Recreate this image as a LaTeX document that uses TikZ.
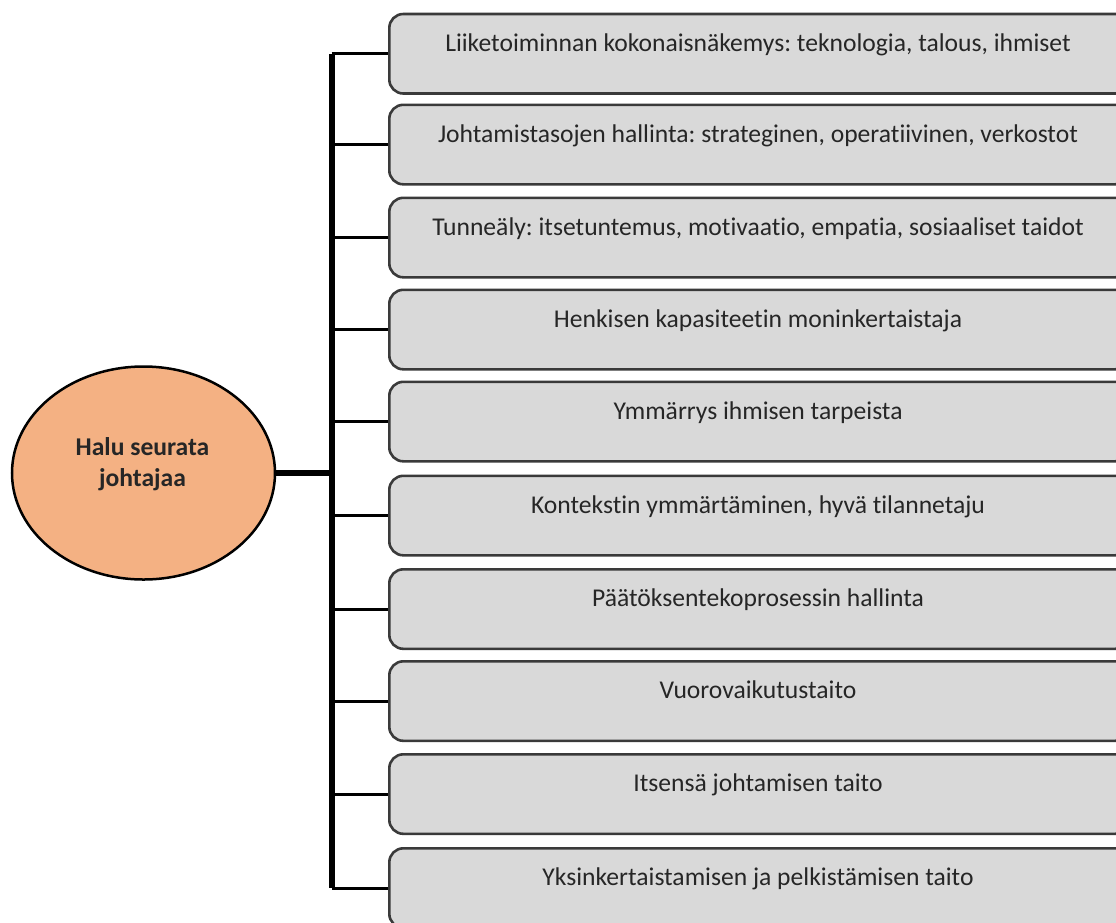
\documentclass[tikz,border=0pt]{standalone}
\usepackage{fontspec}
\setmainfont{Carlito}[RawFeature={-liga;-dlig}]
\frenchspacing
\usetikzlibrary{shapes.geometric}
\definecolor{boxfill}{HTML}{D9D9D9}
\definecolor{boxline}{HTML}{3A3A3A}
\definecolor{ellfill}{HTML}{F4B183}
\tikzset{
  itembox/.style={draw=boxline, line width=2.6pt, fill=boxfill, rounded corners=14pt,
    minimum width=740pt, minimum height=79.5pt, inner sep=0pt, anchor=north west},
  itemtext/.style={anchor=base, font=\fontsize{25.6}{30}\selectfont, text=black!85, inner sep=0pt},
  branch/.style={draw=black, line width=3pt},
  trunkline/.style={draw=black, line width=6pt},
  mainell/.style={ellipse, draw=black, line width=2.5pt, fill=ellfill,
    minimum width=263pt, minimum height=213pt, inner sep=0pt},
}
\begin{document}
\begin{tikzpicture}[x=1pt,y=-1pt]
\useasboundingbox (0,0) rectangle (1116,922);
\clip (0,0) rectangle (1116,922);
\coordinate (tk) at (331.5,0);
\foreach \i/\top/\txt in {
  1/12.7/{Liiketoiminnan kokonaisnäkemys: teknologia, talous, ihmiset},
  2/103.5/{Johtamistasojen hallinta: strateginen, operatiivinen, verkostot},
  3/196.5/{Tunneäly: itsetuntemus, motivaatio, empatia, sosiaaliset taidot},
  4/288.5/{Henkisen kapasiteetin moninkertaistaja},
  5/380.5/{Ymmärrys ihmisen tarpeista},
  6/474.5/{Kontekstin ymmärtäminen, hyvä tilannetaju},
  7/568/{Päätöksentekoprosessin hallinta},
  8/660/{Vuorovaikutustaito},
  9/753/{Itsensä johtamisen taito},
  10/847/{Yksinkertaistamisen ja pelkistämisen taito}} {
  \node[itembox] (b\i) at (388,\top) {};
  \node[itemtext] (t\i) at (758,\top+38.5) {\txt};
}
\node[mainell] (e) at (143.5,473) {};
\node[align=center, font=\bfseries\fontsize{25.6}{31}\selectfont, text=black!85] (et) at (142.5,464) {Halu seurata\\johtajaa};
\draw[trunkline] (b1.west -| tk) -- (b10.west -| tk);
\draw[trunkline] (e.east) -- (e.east -| tk);
\foreach \i in {1,...,10} {
  \draw[branch] (b\i.west -| tk) -- (b\i.west);
}
\end{tikzpicture}
\end{document}
